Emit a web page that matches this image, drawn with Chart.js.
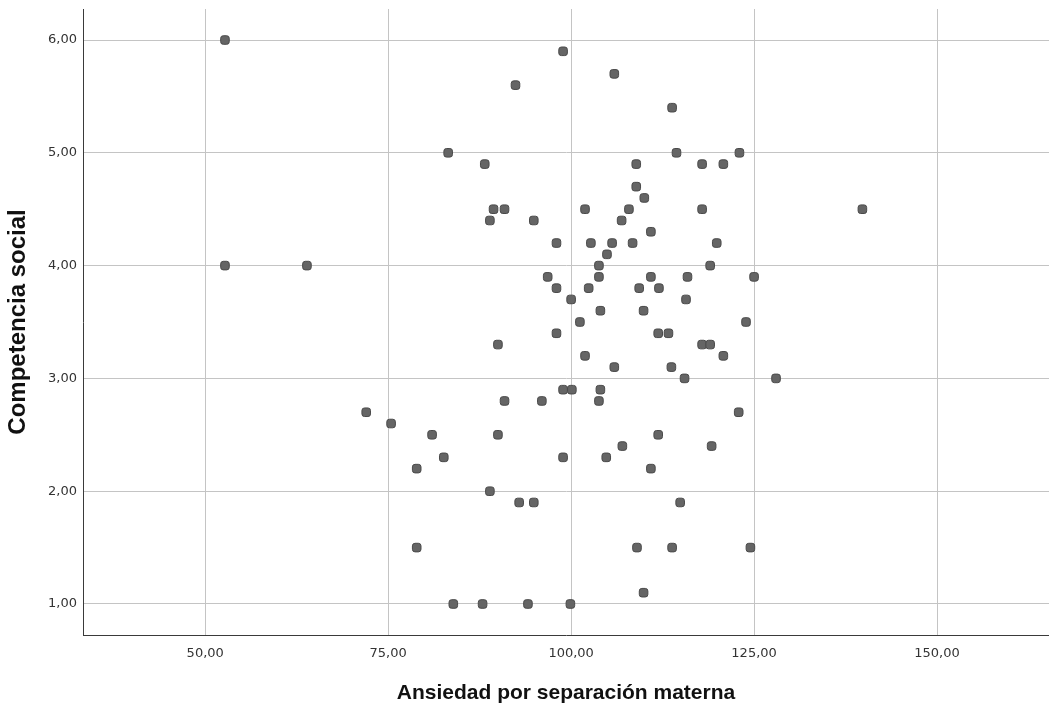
<!DOCTYPE html>
<html>
<head>
<meta charset="utf-8">
<script src="https://cdn.jsdelivr.net/npm/chart.js@4/dist/chart.umd.min.js"></script>
<style>
  html, body { margin: 0; padding: 0; background: #ffffff; }
  #wrap { width: 1049px; height: 708px; }
</style>
</head>
<body>
<div id="wrap"><canvas id="c" width="1049" height="708"></canvas></div>
<script>
// Ansiedad por separación materna (x)
const ansiedad = [
  52.7, 98.9, 105.9, 92.4, 113.8, 83.2, 114.4, 123.0, 88.2, 108.9,
  117.9, 120.8, 108.9, 110.0, 89.4, 90.9, 101.9, 107.9, 117.9, 139.8,
  88.9, 94.9, 106.9, 110.9, 98.0, 102.7, 105.6, 108.4, 119.9, 104.9,
  52.7, 63.9, 103.8, 119.0, 96.8, 103.8, 110.9, 115.9, 125.0, 98.0,
  102.4, 109.3, 112.0, 100.0, 115.7, 104.0, 109.9, 101.2, 123.9, 98.0,
  111.9, 113.3, 90.0, 117.9, 119.0, 101.9, 120.8, 105.9, 113.7, 115.5,
  128.0, 98.9, 100.1, 104.0, 90.9, 96.0, 103.8, 72.0, 122.9, 75.4,
  81.0, 90.0, 111.9, 107.0, 119.2, 82.6, 98.9, 104.8, 78.9, 110.9,
  88.9, 92.9, 94.9, 114.9, 78.9, 109.0, 113.8, 124.5, 83.9, 87.9,
  94.1, 99.9, 109.9
];
// Competencia social (y)
const competencia = [
  6.0, 5.9, 5.7, 5.6, 5.4, 5.0, 5.0, 5.0, 4.9, 4.9,
  4.9, 4.9, 4.7, 4.6, 4.5, 4.5, 4.5, 4.5, 4.5, 4.5,
  4.4, 4.4, 4.4, 4.3, 4.2, 4.2, 4.2, 4.2, 4.2, 4.1,
  4.0, 4.0, 4.0, 4.0, 3.9, 3.9, 3.9, 3.9, 3.9, 3.8,
  3.8, 3.8, 3.8, 3.7, 3.7, 3.6, 3.6, 3.5, 3.5, 3.4,
  3.4, 3.4, 3.3, 3.3, 3.3, 3.2, 3.2, 3.1, 3.1, 3.0,
  3.0, 2.9, 2.9, 2.9, 2.8, 2.8, 2.8, 2.7, 2.7, 2.6,
  2.5, 2.5, 2.5, 2.4, 2.4, 2.3, 2.3, 2.3, 2.2, 2.2,
  2.0, 1.9, 1.9, 1.9, 1.5, 1.5, 1.5, 1.5, 1.0, 1.0,
  1.0, 1.0, 1.1
];
const xTicks = [50, 75, 100, 125, 150];
const yTicks = [1, 2, 3, 4, 5, 6];
const xTitle = 'Ansiedad por separación materna';
const yTitle = 'Competencia social';

const points = ansiedad.map((v, i) => ({ x: v, y: competencia[i] }));
const fmt = v => Number(v).toFixed(2).replace('.', ',');
const noPad = s => { s.paddingTop = 0; s.paddingBottom = 0; s.paddingLeft = 0; s.paddingRight = 0; };

new Chart(document.getElementById('c'), {
  type: 'scatter',
  data: {
    datasets: [{
      data: points,
      pointStyle: 'rectRounded',
      pointRadius: 5,
      pointHoverRadius: 5,
      backgroundColor: '#656565',
      borderColor: '#4a4a4a',
      borderWidth: 1
    }]
  },
  options: {
    responsive: false,
    animation: false,
    devicePixelRatio: 1,
    layout: { autoPadding: false, padding: { top: 9, right: 0, left: 0, bottom: 0 } },
    plugins: { legend: { display: false }, tooltip: { enabled: false } },
    scales: {
      x: {
        type: 'linear',
        min: 33.3,
        max: 165.3,
        afterBuildTicks: s => { s.ticks = xTicks.map(v => ({ value: v })); },
        afterFit: s => { s.height = 73; noPad(s); },
        grid: { color: '#c4c4c4', lineWidth: 1, drawTicks: false },
        border: { color: '#3a3a3a', width: 1 },
        ticks: {
          padding: 11,
          color: '#333333',
          font: { family: 'DejaVu Sans', size: 13 },
          maxRotation: 0,
          callback: v => fmt(v)
        },
        title: {
          display: true,
          text: xTitle,
          color: '#111111',
          font: { family: 'Liberation Sans', size: 21, weight: 'bold' },
          padding: { top: 0, bottom: 2 }
        }
      },
      y: {
        type: 'linear',
        min: 0.725,
        max: 6.275,
        afterBuildTicks: s => { s.ticks = yTicks.map(v => ({ value: v })); },
        afterFit: s => { s.width = 83; noPad(s); },
        grid: { color: '#c4c4c4', lineWidth: 1, drawTicks: false },
        border: { color: '#3a3a3a', width: 1 },
        ticks: {
          padding: 6,
          color: '#333333',
          font: { family: 'DejaVu Sans', size: 13 },
          callback: v => fmt(v)
        },
        title: {
          display: true,
          text: yTitle,
          color: '#111111',
          font: { family: 'Liberation Sans', size: 24, weight: 'bold' },
          padding: { top: 4, bottom: 0 }
        }
      }
    }
  }
});
</script>
</body>
</html>
